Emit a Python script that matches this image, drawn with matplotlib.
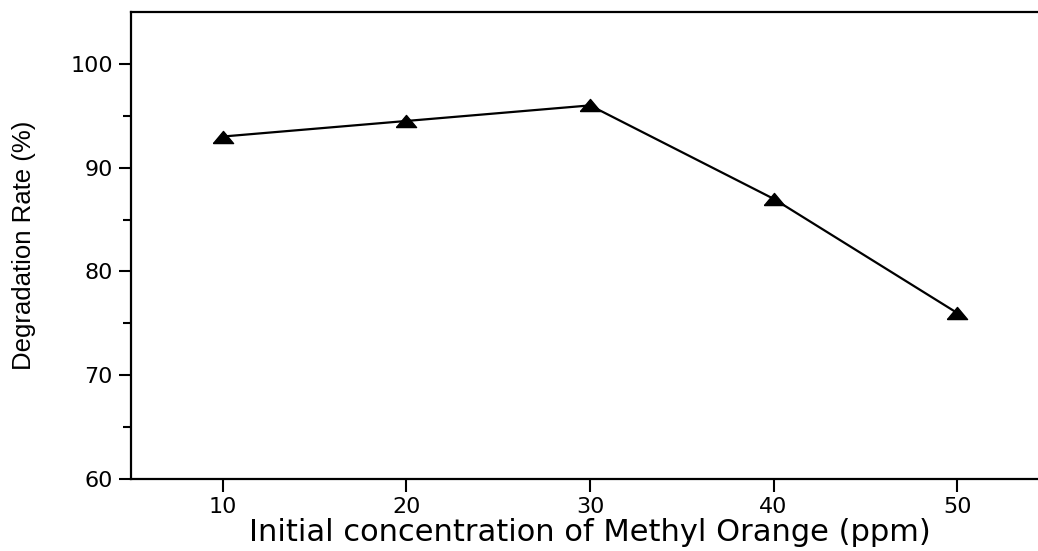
import matplotlib
matplotlib.use("Agg")
import matplotlib.pyplot as plt
from matplotlib.ticker import FixedLocator

# initial dye concentration (ppm) vs. degradation rate (%)
concentration = [10, 20, 30, 40, 50]
degradation = [93.0, 94.5, 96.0, 87.0, 76.0]

x_ticks = [10, 20, 30, 40, 50]
y_ticks = [60, 70, 80, 90, 100]
y_minor = [65, 75, 85, 95]

# flat triangle marker
tri = [(-1, -0.6), (1, -0.6), (0, 0.6), (-1, -0.6)]

fig = plt.figure(figsize=(10.38, 5.51), dpi=100)
ax = fig.add_axes([131 / 1038, 72 / 551, 918 / 1038, 467 / 551])

ax.plot(concentration, degradation, color='black', linewidth=1.6,
        marker=tri, markersize=14.5, markerfacecolor='black',
        markeredgecolor='black')

ax.set_xlim(5, 55)
ax.set_ylim(60, 105)
ax.set_xticks(x_ticks)
ax.set_yticks(y_ticks)
ax.yaxis.set_minor_locator(FixedLocator(y_minor))

tick_font = {'family': 'DejaVu Sans', 'size': 16}
ax.set_xticklabels([str(v) for v in x_ticks], **tick_font)
ax.set_yticklabels([str(v) for v in y_ticks], **tick_font)

for side in ['left', 'bottom', 'top', 'right']:
    ax.spines[side].set_linewidth(1.6)

ax.tick_params(axis='both', which='major', direction='out', length=9,
               width=1.5, pad=4)
ax.tick_params(axis='y', which='minor', direction='out', length=6, width=1.5)
ax.tick_params(axis='x', which='minor', bottom=False)

ax.set_xlabel('Initial concentration of Methyl Orange (ppm)',
              family='DejaVu Sans', size=22, labelpad=1)
ax.set_ylabel('Degradation Rate (%)', family='Liberation Sans',
              size=18.5, labelpad=25)

fig.savefig('out.png', dpi=100)
